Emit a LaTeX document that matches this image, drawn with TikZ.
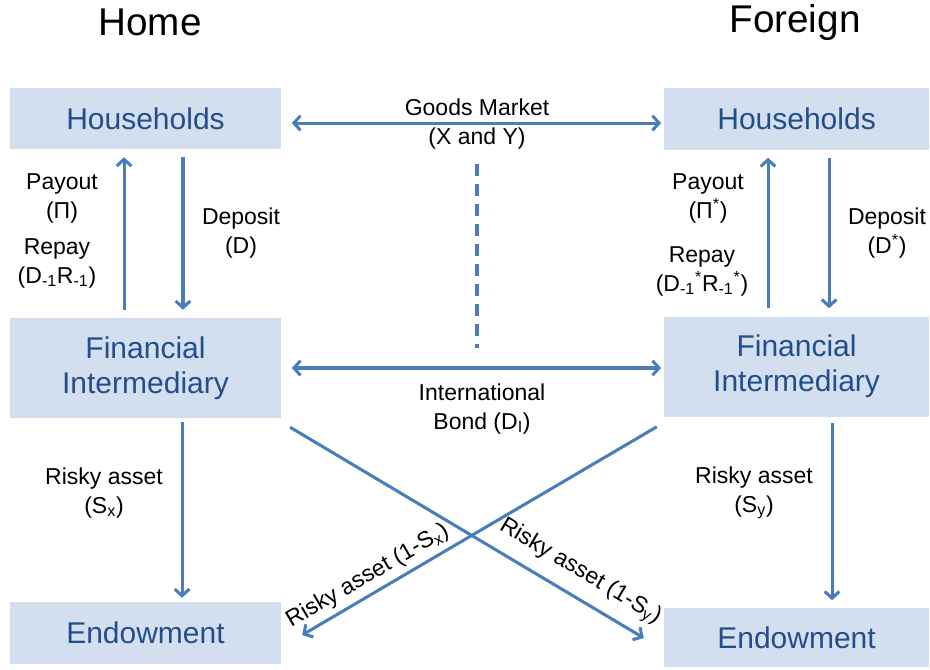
\documentclass[tikz,border=0pt]{standalone}
\usepackage{fontspec}
\setmainfont{Liberation Sans}
\usetikzlibrary{positioning,arrows.meta}
\definecolor{boxfill}{HTML}{D3DFEE}
\definecolor{boxtext}{HTML}{234E8C}
\definecolor{flow}{HTML}{4A7EBB}

\begin{document}
\begin{tikzpicture}[x=0.75pt,y=-0.75pt,on grid,
    sector/.style={fill=boxfill,text=boxtext,align=center,inner sep=0pt,
      font=\fontsize{22.5}{26}\selectfont,minimum width=203pt},
    flowarrow/.style={draw=flow,line width=2.3pt,
      -{Straight Barb[length=5pt,width=11pt]},shorten >=6pt,shorten <=6pt},
    both/.style={flowarrow,{Straight Barb[length=5pt,width=11pt]}-{Straight Barb[length=5pt,width=11pt]}},
    lbl/.style={align=center,inner sep=1pt,font=\fontsize{17.25}{21.75}\selectfont},
    title/.style={font=\fontsize{29}{34}\selectfont}]
   \useasboundingbox (0,0) rectangle (930,669);
   % titles
   \node[title] (home) at (150,22) {Home};
   \node[title] (foreign) at (795,22) {Foreign};
   % home sectors
   \node[sector,minimum height=45.75pt] (hhh) at (145.5,118.5) {Households};
   \node[sector,minimum height=75pt] (hfi) [below=187.1pt of hhh] {Financial\\Intermediary};
   \node[sector,minimum height=46.5pt] (hend) [below=198.8pt of hfi] {Endowment};
   % foreign sectors
   \node[sector,minimum height=46.5pt,minimum width=198.75pt] (fhh) [right=488.3pt of hhh] {Households};
   \node[sector,minimum height=75pt,minimum width=198.75pt] (ffi) [below=186pt of fhh] {Financial\\Intermediary};
   \node[sector,minimum height=44.25pt,minimum width=198.75pt] (fend) [below=203.6pt of ffi] {Endowment};
   % labels
   \node[lbl] (hpay) at (62,198) {Payout\\(Π)};
   \node[lbl] (hrep) at (57,263) {Repay\\(D\textsubscript{-1}R\textsubscript{-1})};
   \node[lbl] (hdep) at (241,233) {Deposit\\(D)};
   \node[lbl] (fpay) at (708,198) {Payout\\(Π\textsuperscript{*})};
   \node[lbl] (frep) at (702,271) {Repay\\(D\textsubscript{-1}\textsuperscript{*}R\textsubscript{-1}\textsuperscript{*})};
   \node[lbl] (fdep) at (887,233) {Deposit\\(D\textsuperscript{*})};
   \node[lbl] (goods) at (477,124) {Goods Market\\(X and Y)};
   \node[lbl] (bond) at (482,409) {International\\Bond (D\textsubscript{I})};
   \node[lbl] (hrisk) at (104,493) {Risky asset\\(S\textsubscript{x})};
   \node[lbl] (frisk) at (754,493) {Risky asset\\(S\textsubscript{y})};
   % cross-border ends
   \coordinate (xa) at ([shift={(9,9)}]hfi.south east);
   \coordinate (xb) at ([shift={(-20,0)}]fend.west);
   \coordinate (ya) at ([shift={(-7,10)}]ffi.south west);
   \coordinate (yb) at ([shift={(21,2)}]hend.east);
   % flows
   \draw[flowarrow] ([xshift=-16.1pt]hfi.north) -- ([xshift=-16.1pt]hhh.south);
   \draw[flowarrow] ([xshift=28.1pt]hhh.south) -- ([xshift=28.1pt]hfi.north);
   \draw[flowarrow] ([xshift=-21.4pt]ffi.north) -- ([xshift=-21.4pt]fhh.south);
   \draw[flowarrow] ([xshift=24.4pt]fhh.south) -- ([xshift=24.4pt]ffi.north);
   \draw[flowarrow,shorten <=3pt,shorten >=3pt] ([xshift=27.4pt]hfi.south) -- ([xshift=27.4pt]hend.north);
   \draw[flowarrow,shorten <=4.5pt] ([xshift=26.6pt]ffi.south) -- ([xshift=26.6pt]fend.north);
   \draw[both,shorten <=8pt,shorten >=2pt] ([yshift=-3.4pt]hhh.east) -- ([yshift=-3.4pt]hhh.east -| fhh.west);
   \draw[both,shorten <=8pt,shorten >=2pt] (hfi.east) -- (hfi.east -| ffi.west);
   \draw[draw=flow,line width=2.4pt,dash pattern=on 9pt off 6pt,shorten <=10pt,shorten >=15pt]
     (goods.south) -- (goods.south |- hfi.east);
   \draw[flowarrow,shorten <=0pt,shorten >=0pt] (xa) -- node[lbl,pos=0.785,sloped,above=7pt] {Risky asset (1-S\textsubscript{y})} (xb);
   \draw[flowarrow,shorten <=0pt,shorten >=0pt] (ya) -- node[lbl,pos=0.79,sloped,above=3pt] {Risky asset (1-S\textsubscript{x})} (yb);
\end{tikzpicture}
\end{document}
